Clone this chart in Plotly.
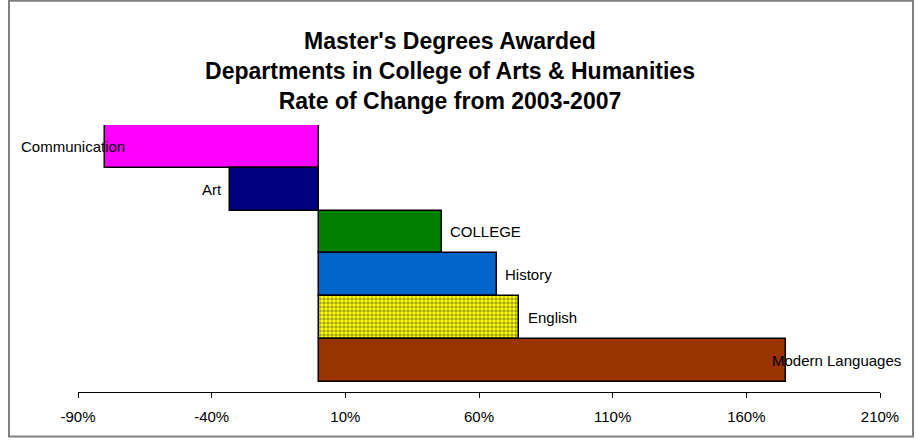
import plotly.graph_objects as go

# data, listed top to bottom as in the chart
departments = ["Communication", "Art", "COLLEGE", "History", "English", "Modern Languages"]
change_pct = [-80.0, -33.3, 46.2, 66.7, 75.0, 175.0]
tick_values = [-90, -40, 10, 60, 110, 160, 210]

bar_colors = ["#FF00FF", "#000080", "#008000", "#0066CC", "#FFFF00", "#993300"]
label_shift = [22, -6, 6, 6, 7, -16]

W, H = 916, 445
L, R, T, B = 78, 36, 125, 53
plot_w = W - L - R
plot_h = H - T - B

bar = go.Bar(
    y=departments,
    x=change_pct,
    orientation="h",
    marker=dict(
        color=bar_colors,
        line=dict(color="black", width=1.5),
        pattern=dict(
            shape=["", "", "", "", "+", ""],
            fgcolor=["#FFFFFF"] * len(departments),
            fgopacity=1,
            size=4,
            solidity=0.25,
            fillmode="overlay",
        ),
    ),
    hoverinfo="skip",
)

fig = go.Figure(data=[bar])

# text labels next to each bar end
for name, val, shift in zip(departments, change_pct, label_shift):
    fig.add_annotation(
        x=val, y=name, xref="x", yref="y",
        text=name, showarrow=False,
        xanchor="right" if val < 0 else "left",
        xshift=shift,
        font=dict(family="Arial, Liberation Sans", size=15, color="black"),
    )

# grey frame around the chart area
def px_x(p):
    return (p - L) / plot_w

def px_y(p):
    return (H - B - p) / plot_h

fig.add_shape(
    type="rect", xref="paper", yref="paper",
    x0=px_x(9), x1=px_x(913), y0=px_y(436.5), y1=px_y(0.8),
    line=dict(color="#808080", width=2), fillcolor="rgba(0,0,0,0)",
    layer="below",
)

fig.update_layout(
    width=W, height=H,
    margin=dict(l=L, r=R, t=T, b=B),
    paper_bgcolor="white",
    plot_bgcolor="white",
    bargap=0,
    showlegend=False,
    font=dict(family="Arial, Liberation Sans", size=15, color="black"),
    title=dict(
        text="Master's Degrees Awarded<br>Departments in College of Arts & Humanities<br>Rate of Change from 2003-2007",
        x=(450 - L) / plot_w, xref="paper", xanchor="center",
        y=1 - 49 / H, yref="container", yanchor="middle",
        font=dict(family="Arial, Liberation Sans", size=23, color="black", weight="bold"),
    ),
    xaxis=dict(
        range=[-90, 210],
        tickvals=tick_values,
        ticktext=[f"{v}%" for v in tick_values],
        showgrid=False, zeroline=False,
        showline=True, linecolor="black", linewidth=1,
        ticks="outside", ticklen=5, tickcolor="black", tickwidth=1,
        ticklabelstandoff=6,
    ),
    yaxis=dict(
        categoryorder="array",
        categoryarray=departments[::-1],
        range=[-0.74, 5.5],
        showticklabels=False, showgrid=False, zeroline=False,
        showline=False, ticks="",
    ),
)

fig.write_html(
    "out.html",
    config={"displayModeBar": False},
    post_script="document.body.style.margin='0';",
)
